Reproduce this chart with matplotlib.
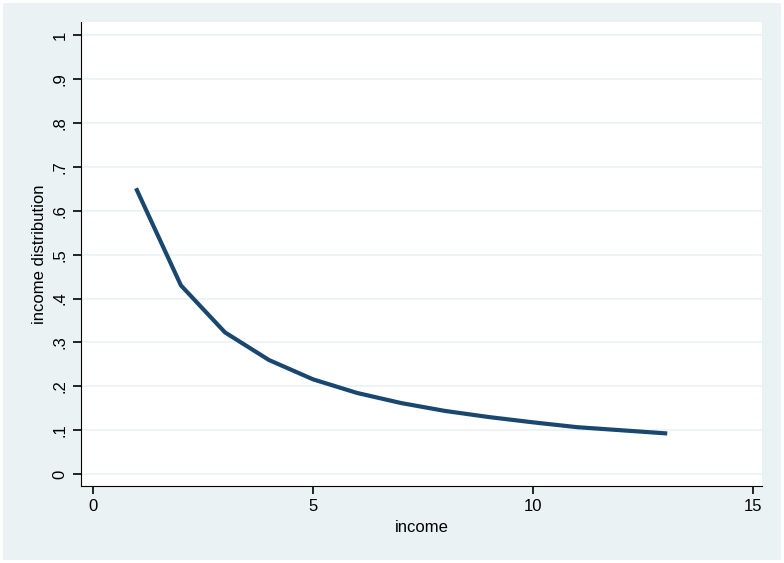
import matplotlib
matplotlib.use("Agg")
import matplotlib.pyplot as plt
plt.rcParams['font.family'] = ['Liberation Sans', 'DejaVu Sans']

income = [1, 2, 3, 4, 5, 6, 7, 8, 9, 10, 11, 12, 13]
dist = [0.647, 0.430, 0.323, 0.260, 0.216, 0.185, 0.162, 0.144, 0.130, 0.118, 0.107, 0.100, 0.093]
yticks = [0, .1, .2, .3, .4, .5, .6, .7, .8, .9, 1]
ylabels = ["0", ".1", ".2", ".3", ".4", ".5", ".6", ".7", ".8", ".9", "1"]

W, H = 784, 563
fig = plt.figure(figsize=(W/100, H/100), dpi=100, facecolor="white")
bg = fig.add_axes([3/W, 3/H, 1-6/W, 1-6/H])
bg.set_facecolor("#EAF2F3"); bg.set_xticks([]); bg.set_yticks([])
for s in bg.spines.values(): s.set_visible(False)

l, r, t, b = 81, 762, 22, 486
ax = fig.add_axes([l/W, 1-b/H, (r-l)/W, (b-t)/H])
ax.plot(income, dist, color="#1A476F", lw=3)
ax.set_xlim(-0.27, 15.2)
ax.set_ylim(-0.027, 1.03)
ax.set_yticks(yticks)
ax.set_yticklabels(ylabels, rotation=90, va="center")
ax.set_xticks([0, 5, 10, 15])
ax.grid(axis="y", color="#EAF2F3", lw=1.2)
ax.set_axisbelow(True)
for s in ["top", "right"]: ax.spines[s].set_visible(False)
ax.tick_params(labelsize=12, length=6, width=1.2)
ax.set_xlabel("income", fontsize=12)
ax.set_ylabel("income distribution", fontsize=12)
fig.savefig("out.png", dpi=100, facecolor="white")
